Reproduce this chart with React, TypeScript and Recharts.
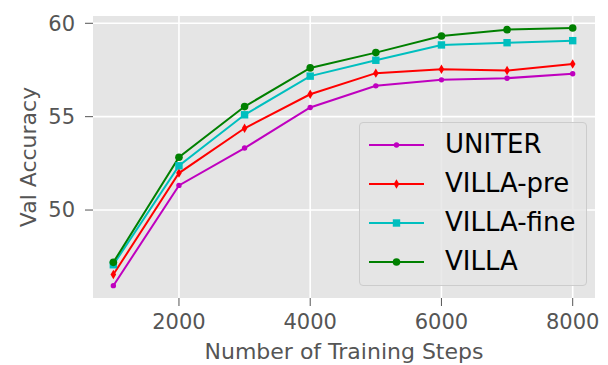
import { LineChart, Line, XAxis, YAxis, CartesianGrid, Label } from "recharts";

const steps = [1000, 2000, 3000, 4000, 5000, 6000, 7000, 8000];
const uniter = [45.95, 51.32, 53.32, 55.49, 56.65, 56.97, 57.06, 57.3];
const villaPre = [46.55, 51.98, 54.38, 56.2, 57.33, 57.54, 57.47, 57.82];
const villaFine = [47.07, 52.37, 55.1, 57.17, 58.02, 58.84, 58.96, 59.07];
const villa = [47.2, 52.83, 55.54, 57.61, 58.43, 59.32, 59.66, 59.75];

const xTicks = [2000, 4000, 6000, 8000];
const yTicks = [50, 55, 60];

const FONT = "'DejaVu Sans', sans-serif";
const GREY = "#555555";

const data = steps.map((s, i) => ({
  step: s,
  uniter: uniter[i],
  villaPre: villaPre[i],
  villaFine: villaFine[i],
  villa: villa[i],
}));

type Shape = "point" | "diamond" | "square" | "circle";

const series: { key: string; name: string; color: string; shape: Shape }[] = [
  { key: "uniter", name: "UNITER", color: "#BF00BF", shape: "point" },
  { key: "villaPre", name: "VILLA-pre", color: "#FF0000", shape: "diamond" },
  { key: "villaFine", name: "VILLA-fine", color: "#00BFBF", shape: "square" },
  { key: "villa", name: "VILLA", color: "#008000", shape: "circle" },
];

function Marker({ cx, cy, color, shape }: { cx: number; cy: number; color: string; shape: Shape }) {
  if (cx == null || cy == null) return null;
  if (shape === "point") return <circle cx={cx} cy={cy} r={2.7} fill={color} />;
  if (shape === "circle") return <circle cx={cx} cy={cy} r={3.8} fill={color} />;
  if (shape === "square")
    return <rect x={cx - 3.7} y={cy - 3.7} width={7.4} height={7.4} fill={color} />;
  return (
    <polygon
      points={`${cx},${cy - 4.7} ${cx + 2.8},${cy} ${cx},${cy + 4.7} ${cx - 2.8},${cy}`}
      fill={color}
    />
  );
}

// matplotlib-style legend box, laid over the plot
function LegendBox() {
  return (
    <div
      style={{
        position: "absolute",
        left: 359,
        top: 122,
        background: "rgba(229,229,229,0.8)",
        border: "1px solid #cccccc",
        borderRadius: 4,
        width: 228,
        height: 164,
        boxSizing: "border-box",
        paddingTop: 2,
        fontFamily: FONT,
        fontSize: 26,
        color: "#000",
      }}
    >
      {series.map((s) => (
        <div key={s.key} style={{ display: "flex", alignItems: "center", height: 39 }}>
          <svg width={85} height={20} style={{ flex: "none" }}>
            <line x1={9} x2={64} y1={10} y2={10} stroke={s.color} strokeWidth={2} />
            <Marker cx={36.5} cy={10} color={s.color} shape={s.shape} />
          </svg>
          <span style={{ lineHeight: "39px" }}>{s.name}</span>
        </div>
      ))}
    </div>
  );
}

export default function App() {
  return (
    <div style={{ position: "fixed", left: 0, top: 0, width: 608, height: 365, background: "#fff" }}>
      <LineChart
        width={608}
        height={365}
        data={data}
        margin={{ top: 16, right: 13, left: 0, bottom: 0 }}
      >
        <CartesianGrid
          fill="#E5E5E5"
          fillOpacity={1}
          stroke="#ffffff"
          strokeWidth={1.6}
          horizontalValues={yTicks}
          verticalValues={xTicks}
        />
        <XAxis
          dataKey="step"
          type="number"
          domain={[690, 8340]}
          ticks={xTicks}
          allowDataOverflow
          height={67}
          axisLine={false}
          tickLine={{ stroke: GREY, strokeWidth: 1 }}
          tickSize={8}
          tickMargin={8}
          tick={{ fill: GREY, fontSize: 21, fontFamily: FONT }}
        >
          <Label
            value="Number of Training Steps"
            position="insideBottom"
            offset={6}
            style={{ fill: GREY, fontSize: 22, fontFamily: FONT }}
          />
        </XAxis>
        <YAxis
          type="number"
          domain={[45.29, 60.39]}
          ticks={yTicks}
          allowDataOverflow
          width={93}
          axisLine={false}
          tickLine={{ stroke: GREY, strokeWidth: 1 }}
          tickSize={8}
          tickMargin={10}
          tick={{ fill: GREY, fontSize: 21, fontFamily: FONT }}
        >
          <Label
            value="Val Accuracy"
            angle={-90}
            position="insideLeft"
            offset={28}
            style={{ fill: GREY, fontSize: 22, fontFamily: FONT, textAnchor: "middle" }}
          />
        </YAxis>
        {series.map((s) => (
          <Line
            key={s.key}
            dataKey={s.key}
            name={s.name}
            stroke={s.color}
            strokeWidth={2}
            isAnimationActive={false}
            dot={(p: any) => (
              <Marker key={`${s.key}-${p.index}`} cx={p.cx} cy={p.cy} color={s.color} shape={s.shape} />
            )}
            activeDot={false}
          />
        ))}
      </LineChart>
      <LegendBox />
    </div>
  );
}
